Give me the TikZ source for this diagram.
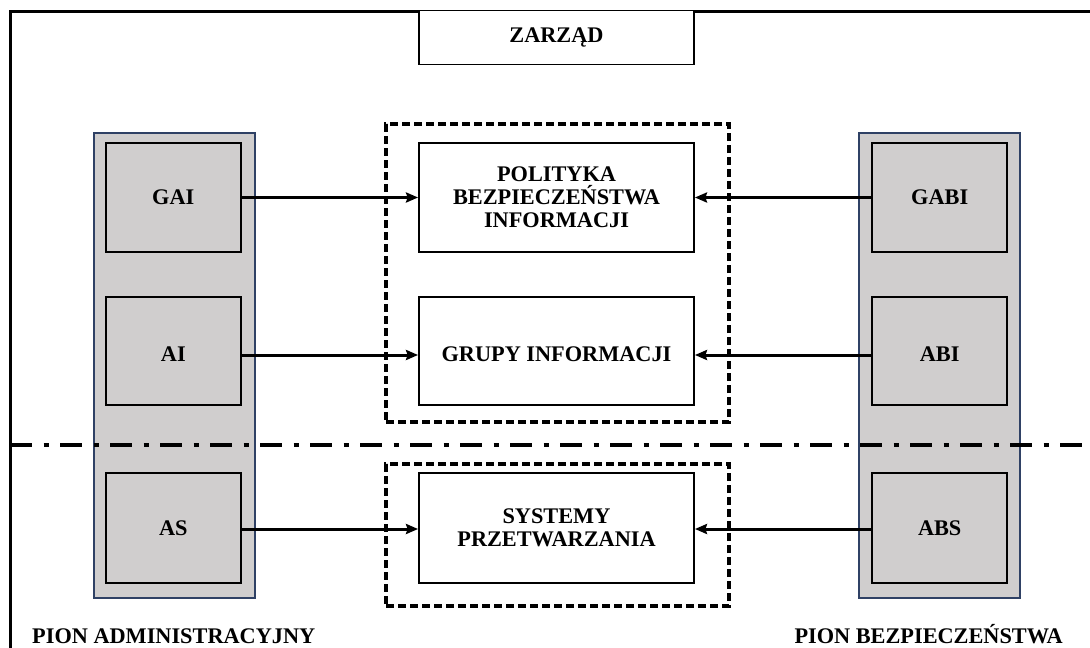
\documentclass[tikz,border=0pt]{standalone}
\usepackage{fontspec}
\setmainfont{Liberation Serif}
\usetikzlibrary{arrows.meta}
\definecolor{colgray}{RGB}{208,206,206}
\definecolor{colnavy}{RGB}{47,65,101}
\begin{document}
\begin{tikzpicture}[x=1pt,y=-1pt,
  txt/.style={font=\fontsize{22.3}{23.2}\selectfont\bfseries, align=center},
  box/.style={txt, draw=black, line width=1.9pt, inner sep=0pt},
  graybox/.style={box, fill=colgray, minimum width=135pt},
  midbox/.style={box, fill=white, minimum width=275pt},
  column/.style={draw=colnavy, line width=1.2pt, fill=colgray, inner sep=0pt,
                 minimum width=161pt, minimum height=465pt},
  group/.style={draw=black, line width=3.4pt, dash pattern=on 8pt off 4pt,
                inner sep=0pt, minimum width=343pt},
  link/.style={line width=3pt, -{Stealth[length=12pt,width=10pt,inset=1.5pt]}},
  divider/.style={line width=4.8pt, dash pattern=on 22pt off 11.5pt on 5pt off 11.5pt},
  frameline/.style={line width=3pt}]

\useasboundingbox (0,0) rectangle (1090,648);

% outer frame (top and left edges)
\coordinate (ftl) at (10,11);
\coordinate (ftr) at (1090,11);
\coordinate (fbl) at (10,648);
\draw[frameline] (ftr) -- (ftl) -- (fbl);

% management box
\node[midbox, minimum height=54pt] (zarzad) at (556.5,37.5) {ZARZĄD};

% the two divisions
\node[column] (colL) at (174.5,365.5) {};
\node[column] (colR) at (939.5,365.5) {};

% dashed groups
\node[group, minimum height=298pt] (grpTop) at (557.5,273) {};
\node[group, minimum height=142pt] (grpBot) at (557.5,535) {};

% dash-dot separator
\coordinate (dl) at (10,445);
\coordinate (dr) at (1090,445);
\draw[divider] (dl) -- (dr);

% administrative division
\node[graybox, minimum height=109pt] (gai) at (173.3,197.5) {GAI};
\node[graybox, minimum height=108.6pt,
      label={[txt, yshift=-3pt]center:AI}] (ai) at (173.3,351) {};
\node[graybox, minimum height=110pt] (as) at (173.3,528) {AS};

% security division
\node[graybox, minimum height=109pt] (gabi) at (939.7,197.5) {GABI};
\node[graybox, minimum height=108.6pt,
      label={[txt, yshift=-3pt]center:ABI}] (abi) at (939.7,351) {};
\node[graybox, minimum height=110pt] (abs) at (939.7,528) {ABS};

% central boxes
\node[midbox, minimum height=109pt] (polityka) at (556.5,197.5)
  {POLITYKA\\BEZPIECZEŃSTWA\\INFORMACJI};
\node[midbox, minimum height=108.6pt,
      label={[txt, yshift=-3pt]center:GRUPY INFORMACJI}] (grupy) at (556.5,351) {};
\node[midbox, minimum height=110pt] (systemy) at (556.5,528)
  {SYSTEMY\\PRZETWARZANIA};

% connectors
\draw[link] (gai.east) -- (polityka.west);
\draw[link] (gabi.west) -- (polityka.east);
\draw[link] ([yshift=-4pt]ai.east) -- ([yshift=-4pt]grupy.west);
\draw[link] ([yshift=-4pt]abi.west) -- ([yshift=-4pt]grupy.east);
\draw[link] ([yshift=-1pt]as.east) -- ([yshift=-1pt]systemy.west);
\draw[link] ([yshift=-1pt]abs.west) -- ([yshift=-1pt]systemy.east);

% division captions
\node[txt, anchor=base west, inner sep=0pt] (pionA) at (32,643) {PION ADMINISTRACYJNY};
\node[txt, anchor=base east, inner sep=0pt] (pionB) at (1063,643) {PION BEZPIECZEŃSTWA};

\end{tikzpicture}
\end{document}
